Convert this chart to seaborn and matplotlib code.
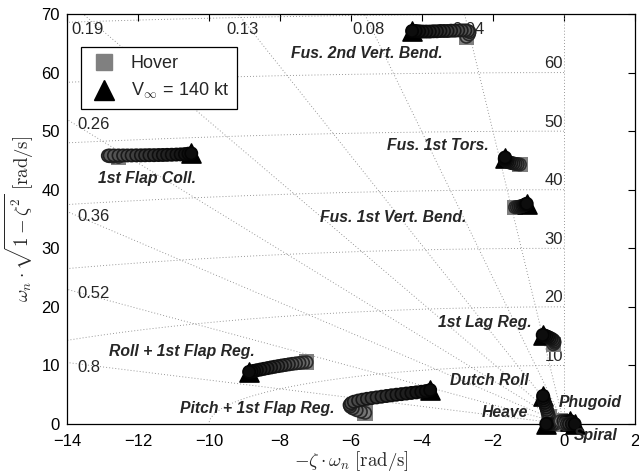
import numpy as np
import pandas as pd
import matplotlib
matplotlib.use("Agg")
import matplotlib.pyplot as plt
from matplotlib.lines import Line2D
from matplotlib.colors import LinearSegmentedColormap
import seaborn as sns

# Eigenvalue trails, from hover (first point) to V = 140 kt (last point)
fus2_vb_x = [-2.75, -2.68, -2.66, -2.70, -2.78, -2.88, -2.98, -3.08, -3.18, -3.28,
             -3.38, -3.48, -3.58, -3.68, -3.78, -3.88, -3.98, -4.08, -4.18, -4.28]
fus2_vb_y = [66.1, 66.5, 66.9, 67.1, 67.2, 67.2, 67.2, 67.15, 67.15, 67.1,
             67.1, 67.1, 67.05, 67.05, 67.0, 67.0, 67.0, 67.05, 67.1, 67.1]

flap_coll_x = [-12.55, -12.70, -12.80, -12.85, -12.80, -12.68, -12.55, -12.42, -12.30, -12.18,
               -12.05, -11.92, -11.80, -11.68, -11.55, -11.42, -11.30, -11.18, -11.05, -10.92,
               -10.80, -10.68, -10.58, -10.50]
flap_coll_y = [45.6, 45.65, 45.72, 45.8, 45.85, 45.85, 45.85, 45.85, 45.85, 45.85,
               45.87, 45.87, 45.88, 45.9, 45.9, 45.92, 45.93, 45.95, 45.97, 46.0,
               46.03, 46.08, 46.15, 46.2]

fus1_tors_x = [-1.24, -1.30, -1.36, -1.42, -1.48, -1.54, -1.59, -1.63, -1.66, -1.67, -1.66]
fus1_tors_y = [44.3, 44.35, 44.4, 44.48, 44.56, 44.66, 44.78, 44.92, 45.08, 45.28, 45.5]

fus1_vb_x = [-1.38, -1.33, -1.28, -1.23, -1.18, -1.14, -1.10, -1.07, -1.05]
fus1_vb_y = [37.0, 37.03, 37.08, 37.14, 37.22, 37.31, 37.41, 37.51, 37.6]

lag_x = [-0.30, -0.27, -0.27, -0.30, -0.35, -0.40, -0.45, -0.50, -0.55, -0.60]
lag_y = [13.6, 13.85, 14.1, 14.35, 14.55, 14.7, 14.85, 14.98, 15.1, 15.2]

roll_x = [-7.25, -7.35, -7.45, -7.55, -7.65, -7.75, -7.85, -7.95, -8.05, -8.15,
          -8.25, -8.35, -8.45, -8.55, -8.65, -8.73, -8.80, -8.87]
roll_y = [10.55, 10.5, 10.42, 10.35, 10.27, 10.18, 10.08, 9.98, 9.88, 9.77,
          9.66, 9.54, 9.42, 9.3, 9.18, 9.07, 8.98, 8.9]

pitch_x = [-5.60, -5.72, -5.84, -5.95, -6.02, -6.04, -6.00, -5.92, -5.80, -5.68,
           -5.55, -5.42, -5.28, -5.14, -5.00, -4.86, -4.72, -4.58, -4.44, -4.30,
           -4.16, -4.02, -3.89, -3.77]
pitch_y = [1.9, 2.1, 2.35, 2.65, 2.95, 3.25, 3.55, 3.8, 4.0, 4.15,
           4.3, 4.42, 4.54, 4.66, 4.78, 4.9, 5.0, 5.1, 5.2, 5.3,
           5.4, 5.5, 5.62, 5.8]

dutch_x = [-0.42, -0.44, -0.46, -0.48, -0.50, -0.52, -0.54, -0.56, -0.58, -0.59]
dutch_y = [1.2, 1.6, 2.0, 2.4, 2.8, 3.2, 3.6, 4.0, 4.4, 4.8]

heave_x = [-0.25, -0.32, -0.40, -0.46, -0.50]
heave_y = [0.0, 0.0, 0.0, 0.0, 0.0]

phugoid_x = [-0.10, -0.02, 0.05, 0.12, 0.18]
phugoid_y = [0.5, 0.5, 0.5, 0.5, 0.5]

spiral_x = [0.02, 0.08, 0.14, 0.22, 0.30]
spiral_y = [0.0, 0.0, 0.0, 0.0, 0.0]

modes = [
    ("Fus. 2nd Vert. Bend.", fus2_vb_x, fus2_vb_y, (-5.55, 63.3)),
    ("1st Flap Coll.", flap_coll_x, flap_coll_y, (-11.76, 42.0)),
    ("Fus. 1st Tors.", fus1_tors_x, fus1_tors_y, (-3.55, 47.5)),
    ("Fus. 1st Vert. Bend.", fus1_vb_x, fus1_vb_y, (-4.82, 35.3)),
    ("1st Lag Reg.", lag_x, lag_y, (-2.23, 17.4)),
    ("Roll + 1st Flap Reg.", roll_x, roll_y, (-10.77, 12.3)),
    ("Pitch + 1st Flap Reg.", pitch_x, pitch_y, (-8.65, 2.7)),
    ("Dutch Roll", dutch_x, dutch_y, (-2.10, 7.5)),
    ("Heave", heave_x, heave_y, (-1.66, 1.9)),
    ("Phugoid", phugoid_x, phugoid_y, (0.73, 3.6)),
    ("Spiral", spiral_x, spiral_y, (0.90, -1.9)),
]

# damping ratios and natural frequencies of the s-plane grid
zeta_lines = [0.04, 0.08, 0.13, 0.19, 0.26, 0.36, 0.52, 0.8]
wn_circles = [10, 20, 30, 40, 50, 60, 70]
wn_labels = [10, 20, 30, 40, 50, 60]

sns.set_style("white")
plt.rcParams["font.family"] = ["Liberation Sans", "DejaVu Sans"]
plt.rcParams["mathtext.fontset"] = "cm"

fig = plt.figure(figsize=(6.39, 4.76), dpi=100)
ax = fig.add_axes([67 / 639, 1 - 424 / 476, 568 / 639, 410 / 476])

XMIN, XMAX, YMIN, YMAX = -14, 2, 0, 70
grid_kw = dict(color="#8a8a8a", lw=0.65, ls=(0, (1, 2.4)), zorder=1)

# s-plane grid: constant damping rays and constant frequency arcs
for z in zeta_lines:
    s = np.sqrt(1 - z ** 2)
    ax.plot([0, -200 * z], [0, 200 * s], **grid_kw)
    slope = s / z
    y_edge = -XMIN * slope
    if y_edge <= YMAX:
        ax.text(XMIN + 0.3, y_edge - 0.8, f"{z:g}", ha="left", va="center", fontsize=12, zorder=2)
    else:
        x_edge = -YMAX / slope
        ax.text(x_edge + 0.12, 67.3, f"{z:g}", ha="center", va="center", fontsize=12, zorder=2)
ax.plot([0, 0], [0, 200], **grid_kw)
th = np.linspace(np.pi / 2, np.pi, 300)
for r in wn_circles:
    ax.plot(r * np.cos(th), r * np.sin(th), **grid_kw)
for r in wn_labels:
    ax.text(-0.03, r + 0.25, f"{r}", ha="right", va="bottom", fontsize=12, zorder=2)

# trails coloured from grey (hover) to black (140 kt)
rows = []
for name, xs, ys, _ in modes:
    n = len(xs)
    for i, (xv, yv) in enumerate(zip(xs, ys)):
        rows.append({"mode": name, "x": xv, "y": yv, "t": i / (n - 1)})
df = pd.DataFrame(rows)

cmap = LinearSegmentedColormap.from_list("speed", [(0.5, 0.5, 0.5), (0.05, 0.05, 0.05)])
face_cols = [cmap(t ** 0.7)[:3] for t in df["t"]]
edge_cols = [tuple(0.35 * c for c in cmap(t ** 0.7)[:3]) for t in df["t"]]

hover = df.groupby("mode", sort=False).first().reset_index()
fast = df.groupby("mode", sort=False).last().reset_index()

sns.scatterplot(data=hover, x="x", y="y", marker="s", s=125, color=(0.5, 0.5, 0.5),
                edgecolor="none", ax=ax, zorder=3, clip_on=False, legend=False)
sns.scatterplot(data=fast, x="x", y="y", marker="^", s=190, color="black",
                edgecolor="black", ax=ax, zorder=3, clip_on=False, legend=False)
sns.scatterplot(data=df, x="x", y="y", s=78, c=face_cols, edgecolor=edge_cols,
                linewidth=1.2, ax=ax, zorder=4, clip_on=False, legend=False)

for name, _, _, (tx, ty) in modes:
    ax.text(tx, ty, name, ha="center", va="center", fontsize=11.3, fontweight="bold",
            style="italic", zorder=6, clip_on=False)

ax.set_xlim(XMIN, XMAX)
ax.set_ylim(YMIN, YMAX)
ax.set_xticks(np.arange(-14, 3, 2))
ax.set_yticks(np.arange(0, 71, 10))
ax.tick_params(direction="in", top=True, right=True, length=5, width=0.8,
               labelsize=12, colors="black")
ax.tick_params(axis="x", pad=7)
ax.tick_params(axis="y", pad=5)
for sp in ax.spines.values():
    sp.set_visible(True)
    sp.set_color("black")
    sp.set_linewidth(0.9)

ax.set_xlabel(r"$-\zeta\cdot\omega_n\ [\mathrm{rad/s}]$", fontsize=13.5, labelpad=0)
ax.set_ylabel(r"$\omega_n\cdot\sqrt{1-\zeta^2}\ [\mathrm{rad/s}]$", fontsize=13.5, labelpad=4)

handles = [
    Line2D([], [], ls="none", marker="s", ms=11, color=(0.5, 0.5, 0.5)),
    Line2D([], [], ls="none", marker="^", ms=15, color="black"),
]
leg = ax.legend(handles, ["Hover", r"V$_\infty$ = 140 kt"], loc="upper left",
                bbox_to_anchor=(0.0246, 0.9195), borderaxespad=0, fontsize=13,
                fancybox=False, framealpha=1, edgecolor="black", handlelength=1.6,
                labelspacing=0.5, borderpad=0.45, handletextpad=0.7)
leg.get_frame().set_linewidth(0.9)
leg.set_zorder(10)

fig.savefig("out.png", dpi=100)
